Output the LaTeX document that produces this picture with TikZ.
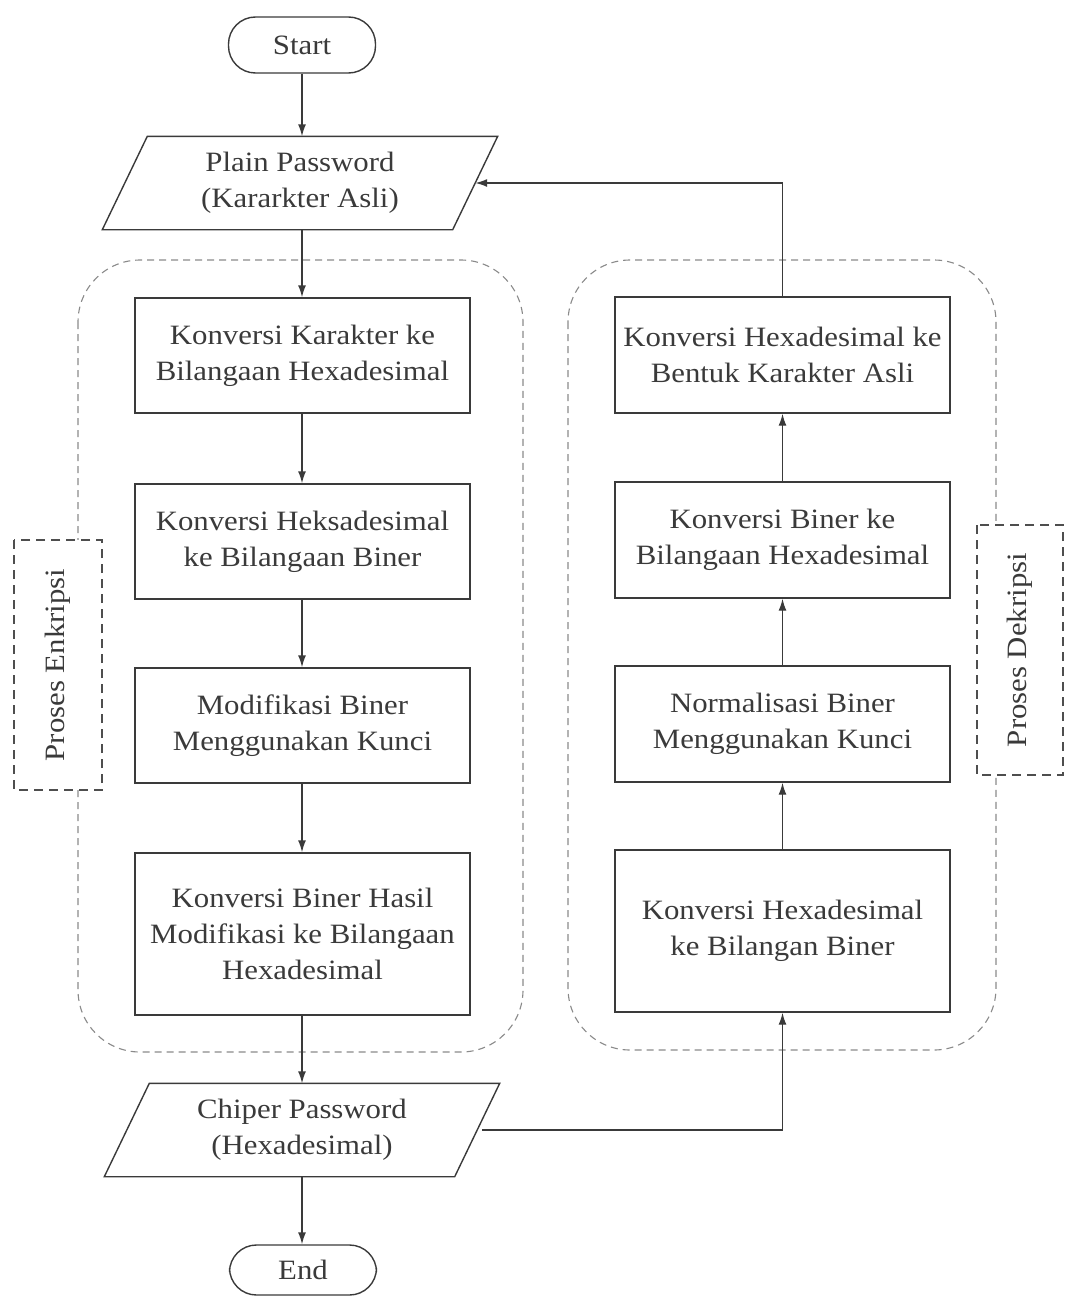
\documentclass[tikz,border=0pt]{standalone}
\usepackage{fontspec}
\setmainfont[FakeStretch=1.1]{Liberation Serif}
\usetikzlibrary{arrows.meta,calc}
\definecolor{ink}{HTML}{3A3A3A}
\definecolor{grp}{HTML}{8A8A8A}
\begin{document}
\begin{tikzpicture}[x=1pt,y=-1pt,
  every node/.style={font=\fontsize{28}{36}\selectfont, text=ink, align=center},
  terminal/.style={draw=ink, line width=1.4pt, rounded corners=27pt, minimum width=147pt, inner sep=0pt},
  iobox/.style={minimum width=350pt, minimum height=93pt, inner sep=0pt},
  procbox/.style={draw=ink, line width=1.4pt, fill=white, minimum width=335pt, inner sep=0pt},
  groupframe/.style={draw=grp, line width=1.1pt, dash pattern=on 7pt off 5pt, rounded corners=62pt},
  grouplabel/.style={draw=ink!90, fill=white, line width=2.2pt, dash pattern=on 9pt off 6pt, rotate=90, inner sep=0pt},
  flow/.style={draw=ink, line width=1.4pt, -{Latex[length=12pt,width=8pt]}}]
\useasboundingbox (0,0) rectangle (1065,1298);

% process groups
\draw[groupframe] (78,260) rectangle (523,1052);
\draw[groupframe] (568,260) rectangle (996,1050);
\node[grouplabel, minimum width=250pt, minimum height=88pt] (enc) at (58,665) {Proses Enkripsi};
\node[grouplabel, minimum width=250pt, minimum height=86pt] (dec) at (1020,650) {Proses Dekripsi};

% terminals
\node[terminal, minimum height=56pt] (start) at (302,45) {Start};
\node[terminal, minimum height=50pt] (end) at (303,1270) {End};

% input / output parallelograms
\node[iobox] (plain) at (300,183) {Plain Password\\(Kararkter Asli)};
\draw[ink, line width=1.4pt]
  ($(plain.north west)+(22.5,0)$) -- ($(plain.north east)+(22.5,0)$) --
  ($(plain.south east)+(-22.5,0)$) -- ($(plain.south west)+(-22.5,0)$) -- cycle;
\node[iobox] (chiper) at (302,1130) {Chiper Password\\(Hexadesimal)};
\draw[ink, line width=1.4pt]
  ($(chiper.north west)+(22.5,0)$) -- ($(chiper.north east)+(22.5,0)$) --
  ($(chiper.south east)+(-22.5,0)$) -- ($(chiper.south west)+(-22.5,0)$) -- cycle;

% encryption steps
\node[procbox, minimum height=115pt] (l1) at (302.5,355.5) {Konversi Karakter ke\\Bilangaan Hexadesimal};
\node[procbox, minimum height=115pt] (l2) at (302.5,541.5) {Konversi Heksadesimal\\ke Bilangaan Biner};
\node[procbox, minimum height=115pt] (l3) at (302.5,725.5) {Modifikasi Biner\\Menggunakan Kunci};
\node[procbox, minimum height=162pt] (l4) at (302.5,934) {Konversi Biner Hasil\\Modifikasi ke Bilangaan\\Hexadesimal};

% decryption steps
\node[procbox, minimum height=116pt] (r1) at (782.5,355) {Konversi Hexadesimal ke\\Bentuk Karakter Asli};
\node[procbox, minimum height=116pt] (r2) at (782.5,540) {Konversi Biner ke\\Bilangaan Hexadesimal};
\node[procbox, minimum height=116pt] (r3) at (782.5,724) {Normalisasi Biner\\Menggunakan Kunci};
\node[procbox, minimum height=162pt] (r4) at (782.5,931) {Konversi Hexadesimal\\ke Bilangan Biner};

% connectors
\draw[flow] (start.south) -- (start.south |- plain.north);
\draw[flow] (start.south |- plain.south) -- (start.south |- l1.north);
\draw[flow] (start.south |- l1.south) -- (start.south |- l2.north);
\draw[flow] (start.south |- l2.south) -- (start.south |- l3.north);
\draw[flow] (start.south |- l3.south) -- (start.south |- l4.north);
\draw[flow] (start.south |- l4.south) -- (start.south |- chiper.north);
\draw[flow] (start.south |- chiper.south) -- (start.south |- end.north);
\draw[flow] ($(chiper.east)+(5,0)$) -| (r4.south);
\draw[flow] (r4.north) -- (r3.south);
\draw[flow] (r3.north) -- (r2.south);
\draw[flow] (r2.north) -- (r1.south);
\draw[flow] (r1.north) |- (plain.east);
\end{tikzpicture}
\end{document}
